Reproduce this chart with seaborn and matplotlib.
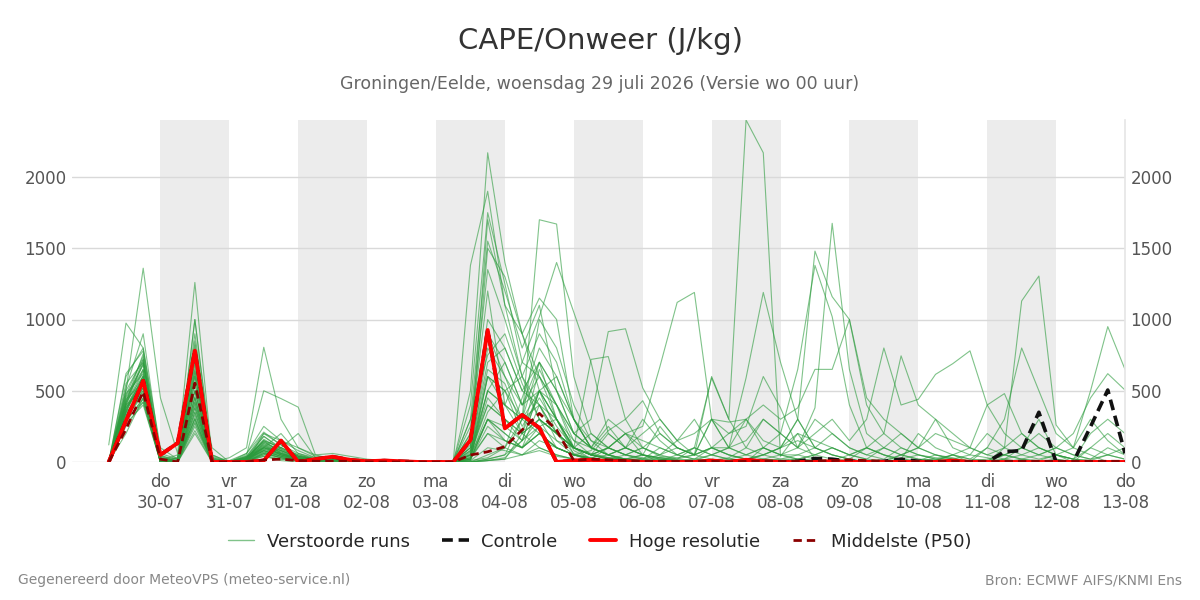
import matplotlib
matplotlib.use("Agg")
import matplotlib.pyplot as plt
from matplotlib.lines import Line2D
import numpy as np
import pandas as pd
import seaborn as sns

# 6-hourly steps from wo 29-07 06:00 up to do 13-08 00:00 (60 points)
times = pd.date_range("2026-07-29 06:00", "2026-08-13 00:00", freq="6h")

# perturbed ensemble runs (J/kg); "/" only splits the three blocks of 20
runs = [
    "0 420 760 40 0 620 0 10 60 210 120 40 20 30 10 5 0 0 0 0 / 0 120 1700 1100 900 600 300 80 20 10 0 0 5 0 0 10 0 0 0 0 / 0 5 10 0 0 0 20 0 0 10 0 0 0 5 0 0 0 0 0 0",
    "0 350 600 30 0 850 20 0 30 150 60 20 10 20 0 0 0 0 0 0 / 0 500 2170 1400 900 500 200 60 20 0 0 10 0 0 0 0 0 10 0 0 / 10 0 0 20 0 0 0 0 0 0 0 0 0 0 0 20 0 0 0 0",
    "0 500 1360 450 60 1260 30 0 40 100 200 60 20 20 10 0 0 0 0 0 / 0 1380 1900 1100 600 400 150 100 60 30 10 0 0 0 0 0 0 0 0 0 / 0 0 0 0 10 0 0 0 0 0 0 10 0 0 0 0 0 0 0 0",
    "0 600 800 60 20 700 100 0 20 80 40 10 0 10 0 0 0 0 0 0 / 0 20 300 150 100 400 300 50 80 220 300 100 40 30 50 600 300 2400 2170 40 / 200 20 0 0 10 0 0 10 0 0 0 0 0 0 0 10 0 0 0 0",
    "0 300 500 20 0 400 0 0 10 50 100 200 30 40 20 10 0 0 0 0 / 0 50 800 600 300 1700 1670 600 200 100 50 30 20 10 0 0 0 0 0 0 / 0 0 0 10 0 0 0 0 0 0 0 0 20 0 0 0 0 0 0 0",
    "0 450 650 10 50 500 0 0 0 200 150 100 50 20 0 0 0 0 0 0 / 0 200 1200 400 700 1020 1400 1050 700 200 100 50 0 0 0 0 0 0 0 0 / 0 0 0 0 0 0 0 0 0 0 10 0 0 0 0 0 0 0 0 0",
    "0 200 450 0 0 300 0 30 100 805 300 100 40 30 20 10 10 0 0 0 / 0 300 750 900 550 300 100 50 10 0 0 0 0 0 0 0 0 0 0 0 / 0 0 0 0 0 0 0 0 0 0 0 0 0 0 0 0 0 0 0 0",
    "0 550 700 0 10 450 0 0 50 500 445 385 50 60 40 20 10 5 0 0 / 0 100 1500 1300 900 1150 1000 300 100 50 20 0 0 0 0 0 0 0 0 0 / 0 10 0 0 0 0 0 0 10 0 0 0 0 0 0 0 0 0 0 0",
    "0 380 550 20 0 350 0 0 20 100 60 30 20 10 10 0 0 0 0 0 / 0 50 400 300 150 500 600 300 150 100 50 100 200 100 50 100 100 300 150 100 / 300 1480 1160 1000 400 200 100 50 20 0 10 0 0 20 0 0 0 0 0 0",
    "0 480 620 0 30 550 0 0 10 120 50 20 10 10 0 0 0 0 0 0 / 0 20 300 200 100 250 300 100 50 30 20 20 50 100 50 300 200 250 600 380 / 100 380 1675 650 200 100 50 100 50 30 0 0 0 0 0 0 0 0 10 0",
    "0 250 420 0 0 250 0 0 0 60 30 10 0 0 0 0 0 0 0 0 / 0 10 600 500 200 100 50 20 10 0 20 50 30 10 0 0 0 0 100 200 / 650 1380 1020 400 100 50 0 0 0 0 0 0 0 0 0 0 0 0 0 0",
    "0 320 480 10 0 380 10 0 30 150 100 50 20 20 10 10 0 0 0 0 / 0 30 500 700 400 600 400 200 100 300 200 250 670 1120 1190 300 280 300 100 50 / 20 10 0 0 0 0 0 0 0 0 0 0 0 0 0 0 0 0 0 0",
    "0 400 700 20 10 600 0 0 20 80 40 20 10 10 0 0 0 0 0 0 / 0 200 900 600 400 700 500 200 300 915 935 520 300 150 50 100 50 20 10 0 / 0 0 0 0 0 0 0 0 0 0 0 0 0 0 0 0 0 0 0 0",
    "0 350 580 0 0 420 0 0 10 90 60 30 10 0 0 0 0 0 0 0 / 0 100 700 800 500 400 200 100 720 740 300 430 200 100 50 20 0 0 0 0 / 0 0 10 0 0 0 0 0 0 0 0 0 0 0 0 0 0 0 0 0",
    "0 280 450 0 20 300 0 0 0 50 20 10 0 0 0 0 0 0 0 0 / 0 20 200 100 50 150 100 50 20 10 0 0 10 0 0 0 0 0 20 10 / 0 0 0 10 0 0 0 0 0 0 0 0 100 1130 1305 260 100 50 0 0",
    "0 300 520 10 0 350 0 10 20 100 80 30 10 10 0 0 0 0 0 0 / 0 50 300 250 150 300 200 100 50 20 10 0 20 10 0 0 0 20 50 100 / 300 100 50 20 0 0 0 10 20 50 0 100 300 800 500 200 100 500 950 650",
    "0 420 600 0 0 500 0 0 30 120 70 20 10 20 10 0 0 0 0 0 / 0 80 500 400 200 300 200 100 50 100 50 20 100 50 20 10 30 100 300 200 / 100 200 300 150 300 800 400 440 615 690 780 400 200 100 50 20 0 0 0 0",
    "0 350 480 20 0 280 0 0 0 70 40 10 0 0 0 0 0 0 0 0 / 0 30 200 150 100 200 100 50 30 50 100 50 30 20 100 50 20 10 50 100 / 200 150 100 50 100 200 745 400 300 100 50 30 0 0 0 0 0 0 0 0",
    "0 500 720 30 10 650 50 0 40 180 100 40 20 10 0 0 0 0 0 0 / 0 150 1000 800 500 700 300 100 50 30 20 10 0 0 0 0 0 10 0 0 / 0 0 0 0 0 0 50 100 200 150 100 400 480 200 100 50 20 10 0 0",
    "0 380 540 0 0 420 0 0 20 90 50 20 10 0 0 0 0 0 0 0 / 0 60 600 500 300 200 100 50 20 10 0 0 0 0 0 0 0 0 0 0 / 0 0 0 0 10 0 0 0 0 0 0 0 50 100 50 100 200 450 620 505",
    "0 300 420 0 0 220 0 0 10 40 20 10 0 0 0 0 0 0 0 0 / 0 0 10 20 50 80 40 20 10 0 0 0 0 0 0 0 0 0 0 0 / 0 0 0 0 0 0 0 0 0 0 0 0 0 0 0 0 0 0 0 0",
    "0 460 680 40 20 760 10 0 60 250 150 80 30 20 10 0 0 0 0 0 / 0 250 1350 1000 600 900 700 300 100 50 20 20 10 0 0 0 0 0 0 0 / 0 0 0 0 0 0 0 0 0 0 0 0 0 0 0 0 0 0 0 0",
    "0 330 520 0 0 330 0 0 10 80 40 20 0 0 0 0 0 0 0 0 / 0 40 450 300 200 300 200 100 50 100 200 150 100 50 100 590 300 100 50 20 / 20 10 0 0 0 0 0 0 0 0 0 0 0 0 0 0 0 0 0 0",
    "0 400 650 10 30 900 20 0 20 130 80 40 20 10 0 0 0 0 0 0 / 0 0 20 50 300 1000 800 400 150 50 20 0 0 0 0 0 0 0 0 0 / 0 0 0 0 0 0 0 0 0 0 0 0 0 0 0 0 0 0 0 0",
    "0 270 400 0 0 200 0 0 0 40 10 0 0 0 0 0 0 0 0 0 / 0 10 100 80 50 100 50 20 10 20 50 100 50 20 10 50 100 150 300 200 / 100 300 200 100 50 100 200 100 300 200 100 50 100 200 100 50 20 100 200 100",
    "0 360 600 20 0 600 30 0 40 200 120 60 30 20 10 0 0 0 0 0 / 0 300 1550 1200 800 1100 500 200 100 50 20 10 0 0 0 0 0 0 0 0 / 0 0 0 0 0 0 0 0 0 0 0 0 0 0 0 0 0 0 0 0",
    "0 520 900 50 0 1000 40 0 20 100 60 20 10 10 0 0 0 0 0 0 / 0 400 1750 1250 700 600 400 100 50 20 10 0 0 0 0 0 0 0 0 0 / 0 0 0 0 0 0 0 0 0 0 0 0 0 0 0 0 0 0 0 0",
    "0 310 470 0 0 270 0 0 0 60 30 10 0 0 0 0 0 0 0 0 / 0 20 250 150 100 200 100 50 30 10 20 50 30 20 50 100 200 300 400 300 / 380 650 650 1000 450 300 200 100 50 20 0 0 0 0 0 0 0 0 0 0",
    "0 440 560 0 10 460 0 0 20 110 70 30 10 10 0 0 0 0 0 0 / 0 50 500 400 300 500 300 150 100 50 100 200 300 150 200 300 100 590 1190 700 / 300 100 50 20 0 0 0 0 0 0 0 0 0 0 0 0 0 0 0 0",
    "0 290 440 10 0 310 0 0 10 70 30 10 0 0 0 0 0 0 0 0 / 0 0 20 50 150 250 150 50 20 10 0 0 0 0 0 0 0 0 0 0 / 0 0 0 0 0 0 0 0 0 0 0 0 0 0 0 0 0 0 0 0",
    "0 620 780 0 0 780 0 0 20 150 100 50 20 10 0 0 0 0 0 0 / 0 0 10 30 150 500 300 100 20 10 0 0 0 0 0 0 0 0 0 0 / 0 0 0 0 0 0 0 0 0 0 0 0 0 0 0 0 0 0 0 0",
    "120 975 800 100 20 500 50 0 30 140 80 30 10 10 0 0 0 0 0 0 / 0 0 50 100 300 400 200 100 50 20 10 0 0 0 0 0 0 0 0 0 / 0 0 0 0 0 0 0 0 0 0 0 0 0 0 0 0 0 0 0 0",
    "0 370 640 0 0 1000 0 0 10 80 50 20 0 0 0 0 0 0 0 0 / 0 10 30 100 450 800 600 300 100 50 0 0 0 0 0 0 0 0 0 0 / 0 0 0 0 0 0 0 0 0 0 0 0 0 0 0 0 0 0 0 0",
    "0 340 500 0 0 380 0 0 10 60 30 10 0 0 0 0 0 0 0 0 / 0 20 300 200 100 200 100 50 20 100 200 50 20 10 20 50 100 50 20 10 / 20 50 100 50 20 10 50 20 10 50 100 50 20 100 300 50 20 200 300 200",
    "0 410 720 30 0 820 10 0 30 180 90 40 20 10 0 0 0 0 0 0 / 0 0 10 20 200 650 400 150 50 20 0 0 0 0 0 0 0 0 0 0 / 0 0 0 0 0 0 0 0 0 0 0 0 0 0 0 0 0 0 0 0",
    "0 390 580 0 0 560 0 0 20 110 50 20 10 0 0 0 0 0 0 0 / 0 70 650 550 250 450 250 100 50 200 100 50 20 10 0 0 20 50 100 50 / 100 50 20 10 0 0 20 50 20 10 0 0 20 50 100 50 0 100 50 20",
    "0 430 690 20 0 720 20 0 30 160 90 40 20 10 0 0 0 0 0 0 / 0 80 400 300 200 500 400 200 100 250 100 50 250 100 50 300 100 50 100 50 / 50 100 50 20 100 50 20 200 100 50 20 100 50 20 50 100 50 20 50 100",
    "0 360 610 10 0 640 0 0 20 130 60 20 10 0 0 0 0 0 0 0 / 0 30 350 500 600 300 200 100 50 100 200 100 50 150 300 100 50 20 50 100 / 150 100 200 100 50 20 100 50 30 20 50 200 100 50 20 50 100 300 150 50",
    "0 470 740 0 10 680 0 0 30 140 80 30 10 10 0 0 0 0 0 0 / 0 100 900 700 400 500 300 100 200 100 50 20 10 50 100 50 20 10 20 50 / 20 50 100 50 20 100 50 20 10 50 20 10 50 100 200 100 50 20 100 50",
    "0 400 520 0 0 450 0 0 10 100 50 20 10 0 0 0 0 0 0 0 / 0 50 600 400 300 700 500 300 100 50 100 300 150 50 20 100 50 20 10 20 / 50 20 10 50 100 50 20 10 50 20 10 20 50 20 10 50 20 10 50 20",
]

hres = [0, 290, 570, 50, 133, 781, 0, 0, 0, 10, 150, 0, 20, 37, 15, 5, 10, 5, 0, 0,
        0, 154, 926, 236, 330, 239, 0, 10, 15, 5, 5, 0, 0, 0, 0, 10, 0, 15, 5, 0,
        0, 0, 5, 0, 0, 0, 0, 0, 0, 10, 0, 0, 0, 0, 0, 0, 0, 0, 0, 0]
control = [0, 290, 570, 50, 133, 781, 0, 0, 0, 10, 150, 0, 20, 37, 15, 5, 10, 5, 0, 0,
           0, 154, 926, 236, 330, 239, 0, 10, 15, 5, 5, 0, 0, 0, 0, 10, 0, 15, 5, 0,
           5, 25, 20, 5, 0, 5, 20, 5, 0, 0, 0, 0, 72, 80, 349, 0, 0, 248, 505, 61]
p50 = [0, 230, 493, 20, 0, 553, 0, 0, 0, 15, 20, 10, 5, 5, 5, 0, 0, 0, 0, 0,
       0, 49, 72, 108, 225, 341, 225, 10, 20, 15, 10, 5, 5, 5, 5, 5, 0, 5, 5, 5,
       5, 5, 10, 15, 10, 5, 0, 5, 5, 5, 5, 5, 5, 5, 5, 5, 5, 5, 5, 5]

weekdays = ["ma", "di", "wo", "do", "vr", "za", "zo"]

GREEN = "#2b9b3c"
members = []
for n, s in enumerate(runs):
    vals = [int(v) for v in s.replace("/", " ").split()]
    members.append(pd.DataFrame({"time": times, "cape": vals, "run": n}))
df = pd.concat(members, ignore_index=True)

sns.set_theme(style="white")
plt.rcParams["font.family"] = ["DejaVu Sans"]

fig = plt.figure(figsize=(12, 6), dpi=100)
ax = fig.add_axes([0.06, 0.23, 0.8775, 0.57])

# alternate days shaded
for d in pd.date_range("2026-07-30", "2026-08-11", freq="2D"):
    ax.axvspan(d, d + pd.Timedelta(hours=24), color="#ececec", lw=0, zorder=0)

sns.lineplot(data=df, x="time", y="cape", units="run", estimator=None,
             color=GREEN, lw=0.8, alpha=0.6, ax=ax, zorder=2, legend=False)
ax.plot(times, control, color="#111111", lw=2.6, ls=(0, (3, 1.6)), zorder=3)
ax.plot(times, hres, color="#ff0000", lw=2.8, zorder=4)
ax.plot(times, p50, color="#8b0000", lw=2.0, ls=(0, (3, 1.8)), zorder=5)

ax.set_xlim(pd.Timestamp("2026-07-28 17:12"), pd.Timestamp("2026-08-13 00:00"))
ax.set_ylim(0, 2400)
ax.set_yticks([0, 500, 1000, 1500, 2000])
ax.grid(axis="y", color="#d9d9d9", lw=1)
ax.set_axisbelow(True)

ticks = pd.date_range("2026-07-30", "2026-08-13", freq="D")
ax.set_xticks(ticks)
ax.set_xticklabels([f"{weekdays[t.dayofweek]}\n{t:%d-%m}" for t in ticks], linespacing=1.2)
ax.tick_params(axis="x", length=5, width=1.5, color="#666666", labelsize=12,
               labelcolor="#555555", pad=3)
ax.tick_params(axis="y", length=0, labelsize=12, labelcolor="#555555", pad=4,
               labelleft=True, labelright=True)
ax.set_xlabel("")
ax.set_ylabel("")
for side in ["left", "top", "bottom"]:
    ax.spines[side].set_visible(False)
ax.spines["right"].set_color("#e6e6e6")

fig.text(0.5, 0.931, "CAPE/Onweer (J/kg)", ha="center", va="center", fontsize=21, color="#333333")
fig.text(0.5, 0.860, "Groningen/Eelde, woensdag 29 juli 2026 (Versie wo 00 uur)",
         ha="center", va="center", fontsize=12.5, color="#666666")

handles = [
    Line2D([], [], color=GREEN, lw=1, alpha=0.6),
    Line2D([], [], color="#111111", lw=2.6, ls=(0, (3, 1.6))),
    Line2D([], [], color="#ff0000", lw=2.8),
    Line2D([], [], color="#8b0000", lw=2.0, ls=(0, (3, 1.8))),
]
labels = ["Verstoorde runs", "Controle", "Hoge resolutie", "Middelste (P50)"]
fig.legend(handles, labels, loc="center", bbox_to_anchor=(0.5, 0.097), ncol=4,
           frameon=False, fontsize=13, handlelength=1.45, handletextpad=0.7,
           columnspacing=1.8)

fig.text(0.015, 0.033, "Gegenereerd door MeteoVPS (meteo-service.nl)", ha="left", va="center",
         fontsize=10, color="#888888")
fig.text(0.985, 0.033, "Bron: ECMWF AIFS/KNMI Ens", ha="right", va="center",
         fontsize=10, color="#888888")

fig.savefig("out.png", dpi=100)
